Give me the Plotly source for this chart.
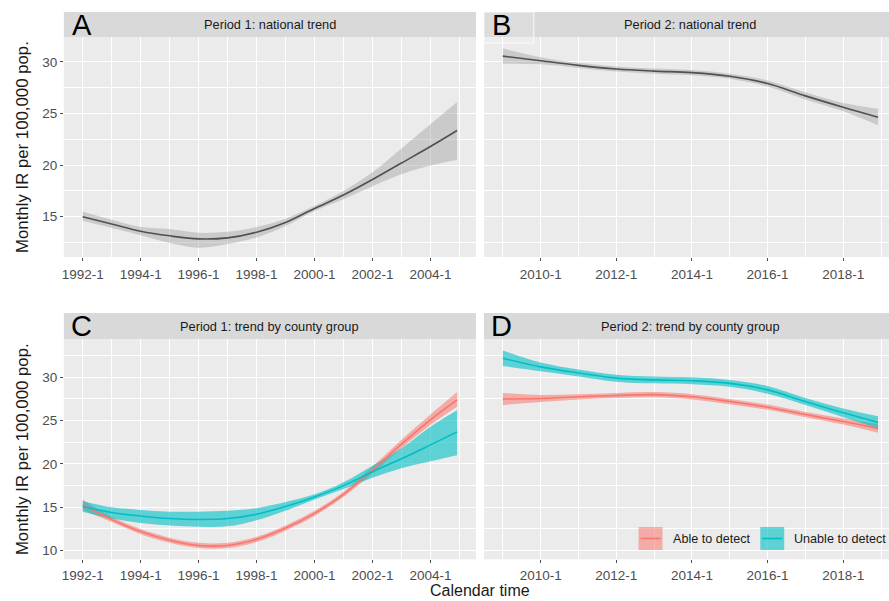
import plotly.graph_objects as go

W, H = 889, 601

# ---------------- data ----------------
years_p1 = [1992, 1993, 1994, 1995, 1996, 1997, 1998, 1999, 2000, 2001, 2002, 2003, 2004, 2004.92]
years_p2 = [2009, 2010, 2011, 2012, 2013, 2014, 2015, 2016, 2017, 2018, 2018.92]

# Panel A: period 1 national trend
nat1 = [15.0, 14.3, 13.6, 13.15, 12.85, 12.95, 13.5, 14.45, 15.8, 17.1, 18.6, 20.2, 21.8, 23.35]
nat1_lo = [14.6, 13.9, 13.2, 12.45, 12.0, 12.35, 13.0, 14.1, 15.55, 16.7, 17.95, 19.1, 19.95, 20.5]
nat1_hi = [15.5, 14.7, 14.0, 13.8, 13.45, 13.55, 14.0, 14.8, 16.05, 17.5, 19.3, 21.6, 23.95, 26.1]

# Panel B: period 2 national trend
nat2 = [30.55, 30.1, 29.65, 29.3, 29.1, 28.95, 28.6, 27.9, 26.7, 25.6, 24.64]
nat2_lo = [29.8, 29.75, 29.4, 29.05, 28.85, 28.7, 28.35, 27.6, 26.35, 25.2, 23.85]
nat2_hi = [31.3, 30.45, 29.9, 29.55, 29.35, 29.2, 28.85, 28.2, 27.05, 26.0, 25.45]

# Panel C: period 1 by county group
able1 = [15.3, 13.6, 12.2, 11.2, 10.6, 10.6, 11.3, 12.6, 14.3, 16.5, 19.3, 22.3, 25.1, 27.4]
able1_lo = [14.7, 13.3, 11.9, 10.9, 10.3, 10.3, 11.0, 12.3, 14.0, 16.2, 18.9, 21.8, 24.5, 26.6]
able1_hi = [15.9, 13.9, 12.5, 11.5, 10.9, 10.9, 11.6, 12.9, 14.6, 16.8, 19.7, 22.8, 25.7, 28.3]
unable1 = [15.1, 14.4, 14.0, 13.7, 13.6, 13.7, 14.2, 15.1, 16.2, 17.5, 19.1, 20.6, 22.2, 23.7]
unable1_lo = [14.5, 13.7, 13.2, 12.9, 12.75, 12.8, 13.5, 14.6, 15.9, 17.1, 18.4, 19.5, 20.3, 21.0]
unable1_hi = [15.7, 15.0, 14.7, 14.5, 14.5, 14.6, 14.9, 15.6, 16.5, 17.9, 19.8, 21.8, 24.3, 26.2]

# Panel D: period 2 by county group
able2 = [27.5, 27.55, 27.75, 27.9, 28.0, 27.75, 27.2, 26.55, 25.7, 24.9, 24.1]
able2_lo = [26.8, 27.15, 27.45, 27.6, 27.7, 27.45, 26.9, 26.25, 25.4, 24.55, 23.6]
able2_hi = [28.2, 27.95, 28.05, 28.2, 28.3, 28.05, 27.5, 26.85, 26.0, 25.25, 24.6]
unable2 = [32.2, 31.2, 30.5, 29.9, 29.7, 29.6, 29.3, 28.55, 27.2, 25.9, 24.8]
unable2_lo = [31.3, 30.7, 30.1, 29.5, 29.3, 29.2, 28.9, 28.1, 26.8, 25.4, 24.1]
unable2_hi = [33.1, 31.7, 30.9, 30.3, 30.1, 30.0, 29.7, 29.0, 27.6, 26.4, 25.5]

ticks_p1 = [1992, 1994, 1996, 1998, 2000, 2002, 2004]
ticklabels_p1 = ["1992-1", "1994-1", "1996-1", "1998-1", "2000-1", "2002-1", "2004-1"]
ticks_p2 = [2010, 2012, 2014, 2016, 2018]
ticklabels_p2 = ["2010-1", "2012-1", "2014-1", "2016-1", "2018-1"]
minor_p1 = [1993, 1995, 1997, 1999, 2001, 2003, 2005]
minor_p2 = [2009, 2011, 2013, 2015, 2017, 2019]

yticks_top = [15, 20, 25, 30]
yticks_bot = [10, 15, 20, 25, 30]
yminor = [12.5, 17.5, 22.5, 27.5, 32.5]

panel_titles = ["Period 1: national trend", "Period 2: national trend",
                "Period 1: trend by county group", "Period 2: trend by county group"]
panel_letters = ["A", "B", "C", "D"]
group_names = ["Able to detect", "Unable to detect"]

RED = "#F8766D"
TEAL = "#00BFC4"
RED_FILL = "rgba(248,118,109,0.55)"
TEAL_FILL = "rgba(0,191,196,0.6)"
GREY_FILL = "rgba(153,153,153,0.4)"
GREY_LINE = "#505050"

FONT = "Liberation Sans, Arial, sans-serif"


def px(x):
    return x / W


def py(y):
    return 1 - y / H


# panel geometry (pixels)
XL = [(62, 475), (483, 889)]
YT = [(37, 257), (339, 559.3)]
STRIP = [(12, 37), (313, 339)]

fig = go.Figure()


def add_band(xs, lo, hi, fill, ax, ay):
    fig.add_trace(go.Scatter(x=xs, y=lo, mode="lines", line=dict(width=0, shape="spline"),
                             xaxis=ax, yaxis=ay, showlegend=False, hoverinfo="skip"))
    fig.add_trace(go.Scatter(x=xs, y=hi, mode="lines", line=dict(width=0, shape="spline"),
                             fill="tonexty", fillcolor=fill,
                             xaxis=ax, yaxis=ay, showlegend=False, hoverinfo="skip"))


def add_line(xs, ys, color, ax, ay, name, lw=1.6):
    fig.add_trace(go.Scatter(x=xs, y=ys, mode="lines", line=dict(width=lw, color=color, shape="spline"),
                             xaxis=ax, yaxis=ay, showlegend=False, name=name))


# A
add_band(years_p1, nat1_lo, nat1_hi, GREY_FILL, "x", "y")
add_line(years_p1, nat1, GREY_LINE, "x", "y", "National")
# B
add_band(years_p2, nat2_lo, nat2_hi, GREY_FILL, "x2", "y2")
add_line(years_p2, nat2, GREY_LINE, "x2", "y2", "National")
# C
add_band(years_p1, able1_lo, able1_hi, RED_FILL, "x3", "y3")
add_band(years_p1, unable1_lo, unable1_hi, TEAL_FILL, "x3", "y3")
add_line(years_p1, able1, RED, "x3", "y3", group_names[0])
add_line(years_p1, unable1, TEAL, "x3", "y3", group_names[1])
# D
add_band(years_p2, able2_lo, able2_hi, RED_FILL, "x4", "y4")
add_band(years_p2, unable2_lo, unable2_hi, TEAL_FILL, "x4", "y4")
add_line(years_p2, able2, RED, "x4", "y4", group_names[0])
add_line(years_p2, unable2, TEAL, "x4", "y4", group_names[1])

tickfont = dict(family=FONT, size=13.5, color="#4d4d4d")


def xaxis_cfg(col, tickvals, ticktext, minor, rng, anchor, standoff):
    return dict(domain=[px(XL[col][0]), px(XL[col][1])], range=rng, anchor=anchor,
                tickmode="array", tickvals=tickvals, ticktext=ticktext,
                showgrid=True, gridcolor="white", gridwidth=1.1, zeroline=False, showline=False,
                ticks="outside", ticklen=3, tickwidth=1, tickcolor="#4d4d4d", tickfont=tickfont,
                ticklabelstandoff=standoff,
                minor=dict(tickmode="array", tickvals=minor, showgrid=True, gridcolor="white",
                           gridwidth=0.55, ticks=""),
                fixedrange=True)


def yaxis_cfg(row, tickvals, rng, anchor, minor, labels):
    return dict(domain=[py(YT[row][1]), py(YT[row][0])], range=rng, anchor=anchor,
                tickmode="array", tickvals=tickvals,
                showticklabels=labels, ticks="outside" if labels else "", ticklen=3, tickwidth=1,
                tickcolor="#4d4d4d", tickfont=tickfont,
                showgrid=True, gridcolor="white", gridwidth=1.1, zeroline=False, showline=False,
                minor=dict(tickmode="array", tickvals=minor, showgrid=True, gridcolor="white",
                           gridwidth=0.55, ticks=""),
                fixedrange=True)


RX1 = [1991.35, 2005.57]
RX2 = [2008.5, 2019.21]
RY_TOP = [11.1, 32.4]
RY_BOT = [9.0, 34.42]

fig.update_layout(
    width=W, height=H, margin=dict(l=0, r=0, t=0, b=0),
    paper_bgcolor="white", plot_bgcolor="#ebebeb",
    showlegend=False,
    xaxis=xaxis_cfg(0, ticks_p1, ticklabels_p1, minor_p1, RX1, "y", 2),
    xaxis2=xaxis_cfg(1, ticks_p2, ticklabels_p2, minor_p2, RX2, "y2", 2),
    xaxis3=xaxis_cfg(0, ticks_p1, ticklabels_p1, minor_p1, RX1, "y3", 0),
    xaxis4=xaxis_cfg(1, ticks_p2, ticklabels_p2, minor_p2, RX2, "y4", 0),
    yaxis=yaxis_cfg(0, yticks_top, RY_TOP, "x", yminor, True),
    yaxis2=yaxis_cfg(0, yticks_top, RY_TOP, "x2", yminor, False),
    yaxis3=yaxis_cfg(1, yticks_bot, RY_BOT, "x3", yminor, True),
    yaxis4=yaxis_cfg(1, yticks_bot, RY_BOT, "x4", yminor, False),
)

shapes = []
annotations = []
for row in range(2):
    for col in range(2):
        i = row * 2 + col
        x0, x1 = XL[col]
        s0, s1 = STRIP[row]
        shapes.append(dict(type="rect", xref="paper", yref="paper", x0=px(x0), x1=px(x1),
                           y0=py(s1), y1=py(s0), fillcolor="#d9d9d9", line=dict(width=0), layer="below"))
        cx = (x0 + x1) / 2 if col == 0 else (x0 + 897) / 2
        annotations.append(dict(xref="paper", yref="paper", x=px(cx),
                                y=py((s0 + s1) / 2), text=panel_titles[i], showarrow=False,
                                font=dict(family=FONT, size=12.8, color="#1a1a1a"),
                                xanchor="center", yanchor="middle"))
        annotations.append(dict(xref="paper", yref="paper", x=px(x0 + 18), y=py(s0 + 13),
                                text=panel_letters[i], showarrow=False,
                                font=dict(family=FONT, size=29, color="black"),
                                xanchor="center", yanchor="middle"))

# label box behind "B"
shapes.append(dict(type="rect", xref="paper", yref="paper", x0=px(483), x1=px(533),
                   y0=py(43), y1=py(12), fillcolor="rgba(255,255,255,0.1)",
                   line=dict(width=1, color="rgba(255,255,255,0.8)")))

# axis titles
for row in range(2):
    annotations.append(dict(xref="paper", yref="paper", x=px(20), y=py((YT[row][0] + YT[row][1]) / 2),
                            text="Monthly IR per 100,000 pop.", textangle=-90, showarrow=False,
                            font=dict(family=FONT, size=16.8, color="#1a1a1a"),
                            xanchor="center", yanchor="middle"))
annotations.append(dict(xref="paper", yref="paper", x=px(479.5), y=py(601), text="Calendar time",
                        showarrow=False, font=dict(family=FONT, size=16, color="#1a1a1a"),
                        xanchor="center", yanchor="bottom"))

# legend (inside panel D)
legend_keys = [(638, RED_FILL, RED, group_names[0], 671), (760, TEAL_FILL, TEAL, group_names[1], 792)]
for kx, kfill, kline, kname, tx in legend_keys:
    shapes.append(dict(type="rect", xref="paper", yref="paper", x0=px(kx), x1=px(kx + 24),
                       y0=py(550), y1=py(527), fillcolor=kfill, line=dict(width=0)))
    shapes.append(dict(type="line", xref="paper", yref="paper", x0=px(kx + 2), x1=px(kx + 22),
                       y0=py(538.5), y1=py(538.5), line=dict(width=1.6, color=kline)))
    annotations.append(dict(xref="paper", yref="paper", x=px(tx), y=py(539), text=kname,
                            showarrow=False, font=dict(family=FONT, size=12.6, color="#1a1a1a"),
                            xanchor="left", yanchor="middle"))

fig.update_layout(shapes=shapes, annotations=annotations)

fig.write_html("out.html", config={"displayModeBar": False})
